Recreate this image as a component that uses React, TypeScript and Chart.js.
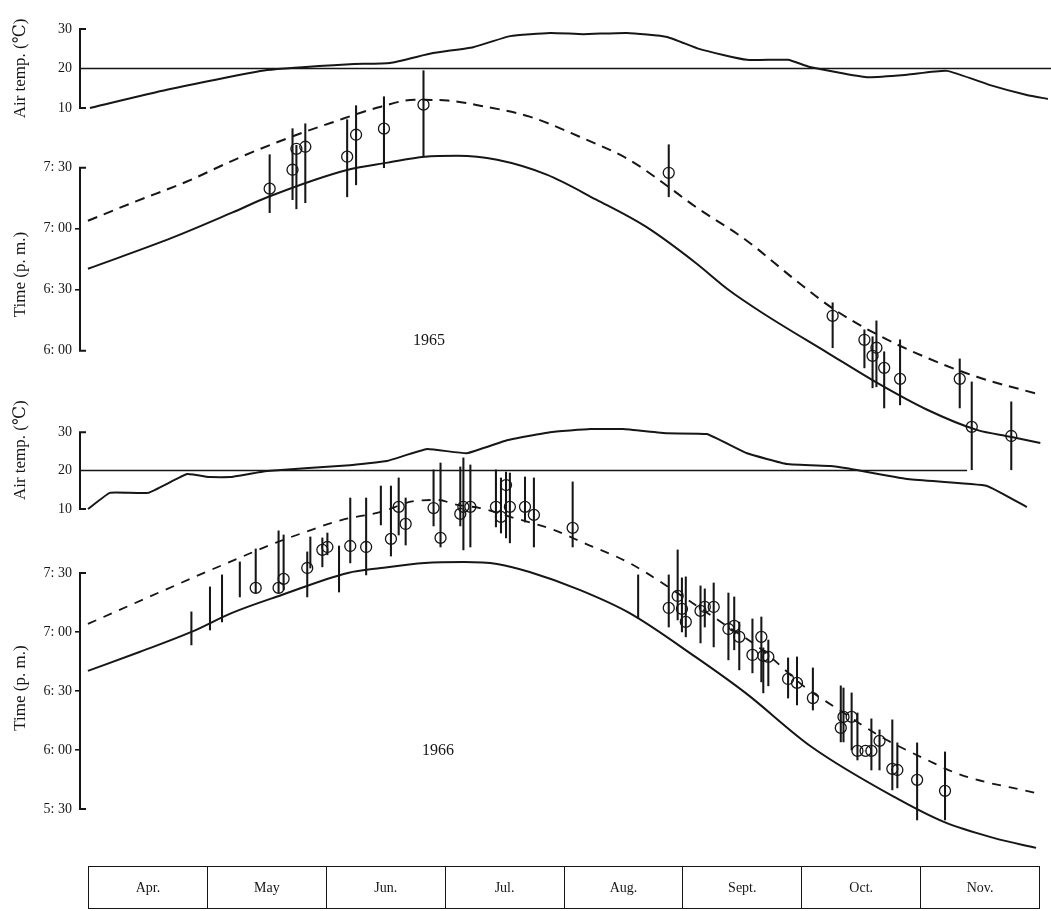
import React, { useEffect, useRef } from "react";
import { Chart, registerables } from "chart.js";

Chart.register(...registerables);

const SERIF = "'Liberation Serif', 'DejaVu Serif', 'Times New Roman', serif";
const INK = "#161616";
const W = 1051;

// ---- categories (month bar) ----
const months = ["Apr.", "May", "Jun.", "Jul.", "Aug.", "Sept.", "Oct.", "Nov."];

// x values: days after 1 April; time values: minutes after noon (p.m.)
const X_MIN = -2.05;
const X_MAX = 246.8;

// ---- 1965 air temperature (°C) ----
const temp65Day = [0.5, 20.2, 45.9, 67.1, 77.4, 88.4, 98.7, 108.2, 118.4, 126.9, 138.1, 148.4, 156.8, 168.9, 179.4, 185.0, 199.6, 209.9, 220.1, 231.2, 240.6, 246.0];
const temp65 = [10.0, 14.6, 19.6, 21.1, 21.4, 23.9, 25.4, 28.2, 29.0, 28.7, 29.0, 28.0, 24.9, 22.2, 22.2, 20.4, 17.8, 18.4, 19.4, 15.8, 13.3, 12.3];
const ref65Day = [-2.05, 246.8];
const refTemp = [20, 20];

// ---- 1965 sunset (solid) and dashed curve ----
const sunset65Day = [0, 21.8, 37.2, 46.6, 67.1, 77.4, 86.9, 95.4, 105.6, 118.4, 131.2, 144.0, 156.8, 165.3, 174.0, 190.9, 203.7, 216.6, 229.4, 238.1, 245.8];
const sunset65 = [400.3, 415.6, 427.9, 435.7, 449.0, 452.5, 455.4, 455.9, 453.9, 446.6, 434.3, 421.0, 403.3, 390.0, 378.7, 359.0, 344.2, 331.0, 321.1, 317.7, 314.7];
const dashed65Day = [0, 11.5, 25.4, 39.0, 52.5, 62.8, 75.6, 84.3, 92.8, 101.2, 114.0, 126.9, 139.7, 148.4, 156.8, 169.7, 182.5, 192.7, 204.8, 216.6, 229.4, 246.0];
const dashed65 = [423.9, 432.8, 443.1, 454.9, 465.2, 472.1, 480.0, 483.4, 483.0, 480.5, 475.1, 465.2, 453.9, 442.6, 430.8, 414.6, 394.9, 380.2, 366.9, 356.5, 347.2, 338.3];

// ---- 1965 observations ----
const obs65Day = [46.9, 52.8, 53.8, 56.1, 66.9, 69.2, 76.4, 86.6, 149.9, 192.2, 200.4, 202.5, 203.5, 205.5, 209.6, 225.0, 228.1, 238.3];
const obs65Mean = [439.7, 449.0, 459.3, 460.3, 455.4, 466.2, 469.2, 481.0, 447.5, 377.2, 365.4, 357.5, 361.5, 351.6, 346.2, 346.2, 322.6, 318.1];
const obs65Low = [427.9, 434.3, 429.8, 432.8, 435.7, 441.6, 450.0, 455.4, 435.7, 361.5, 351.6, 341.8, 342.3, 331.9, 333.4, 331.9, 301.5, 301.5];
const obs65High = [456.4, 469.2, 461.0, 471.6, 473.6, 480.5, 484.9, 497.7, 461.3, 383.6, 370.3, 366.9, 374.7, 359.5, 365.4, 356.0, 344.7, 334.9];

// ---- 1966 air temperature (°C) ----
const temp66Day = [0, 5.6, 15.4, 25.4, 31.3, 36.4, 45.9, 67.1, 76.6, 86.9, 97.1, 107.4, 118.4, 128.7, 137.1, 148.4, 158.6, 168.9, 179.1, 190.2, 194.5, 209.9, 230.4, 240.6];
const temp66 = [10.0, 14.2, 14.2, 19.1, 18.3, 18.3, 19.9, 21.4, 22.5, 25.6, 24.5, 27.9, 30.0, 30.8, 30.8, 29.7, 29.5, 24.5, 21.7, 21.2, 20.6, 17.8, 16.0, 10.5];
const ref66Day = [-2.05, 225.3];

// ---- 1966 sunset (solid) and dashed curve ----
const sunset66Day = [0, 13.3, 26.7, 37.2, 50.0, 67.1, 75.6, 86.9, 97.1, 105.6, 114.0, 126.9, 139.7, 156.8, 169.7, 186.8, 208.1, 220.9, 233.7, 244.7];
const sunset66 = [400.2, 409.8, 420.0, 429.7, 438.8, 450.0, 452.5, 455.1, 455.6, 454.6, 450.5, 441.4, 429.7, 407.3, 389.0, 361.5, 336.1, 323.4, 315.3, 310.2];
const dashed66Day = [0, 22.8, 30.5, 39.0, 48.4, 56.1, 65.4, 75.6, 84.3, 90.2, 95.3, 101.2, 109.9, 120.2, 127.9, 139.7, 156.8, 165.3, 174.0, 185.0, 192.7, 204.8, 216.6, 225.3, 244.5];
const dashed66 = [424.1, 443.9, 450.5, 457.6, 465.3, 470.8, 476.9, 481.0, 486.6, 487.1, 484.6, 483.0, 478.0, 471.9, 465.3, 455.1, 433.7, 422.5, 410.9, 392.0, 381.9, 366.6, 354.9, 347.3, 338.2];

// ---- 1966 observations (circle = mean, bar = range) ----
const obs66Day = [43.3, 49.2, 50.5, 56.6, 60.5, 61.8, 67.7, 71.8, 78.2, 80.2, 82.0, 89.2, 91.0, 96.1, 96.9, 98.7, 105.3, 106.6, 107.9, 108.9, 112.8, 115.1, 125.1, 149.9, 152.2, 153.3, 154.3, 158.1, 159.2, 161.5, 165.3, 166.8, 168.1, 171.5, 173.8, 174.3, 175.6, 180.7, 183.0, 187.1, 194.3, 195.0, 197.1, 198.6, 200.7, 202.2, 204.3, 207.6, 208.9, 214.0, 221.2];
const obs66Mean = [442.4, 442.4, 447.0, 452.5, 461.7, 463.2, 463.7, 463.2, 467.3, 483.6, 474.9, 483.0, 467.8, 480.0, 483.6, 483.6, 483.6, 478.5, 494.7, 483.6, 483.6, 479.5, 472.9, 432.2, 438.3, 431.7, 425.1, 430.7, 432.7, 432.7, 421.5, 423.1, 417.5, 408.3, 417.5, 407.8, 407.3, 396.1, 394.1, 386.4, 371.2, 376.8, 376.8, 359.5, 359.5, 359.5, 364.6, 350.4, 349.8, 344.8, 339.2];
const obs66Low = [439.8, 439.8, 441.4, 437.8, 453.1, 459.2, 455.1, 449.0, 458.6, 469.3, 464.2, 473.9, 463.2, 473.9, 461.7, 463.2, 473.4, 470.3, 467.8, 465.3, 475.9, 463.2, 463.2, 422.5, 426.1, 420.0, 417.5, 414.4, 422.5, 412.4, 405.8, 410.9, 400.7, 399.2, 394.6, 389.0, 392.6, 386.4, 382.9, 380.3, 364.1, 364.1, 360.0, 354.9, 359.5, 349.8, 349.8, 339.7, 340.7, 324.4, 324.4];
const obs66High = [462.2, 471.4, 469.3, 460.7, 467.8, 470.3, 488.1, 488.1, 494.2, 498.3, 488.1, 502.4, 505.9, 503.9, 508.5, 504.9, 502.4, 498.3, 501.3, 500.8, 498.8, 498.3, 496.3, 449.0, 461.7, 447.5, 448.0, 443.4, 441.9, 444.9, 439.8, 437.8, 425.0, 426.6, 427.6, 411.9, 415.9, 406.8, 407.3, 401.7, 392.6, 391.5, 389.0, 378.8, 359.5, 375.8, 370.2, 375.3, 363.6, 363.6, 359.0];
// ranges drawn without a mean circle
const range66Day = [26.7, 31.5, 34.6, 39.2, 57.4, 64.8, 75.6, 142.0];
const range66Low = [413.4, 421.0, 425.1, 437.8, 452.5, 440.3, 474.4, 427.1];
const range66High = [430.2, 442.9, 449.0, 455.6, 468.3, 463.7, 494.2, 449.0];

// ---- helpers ----
const pts = (xs: number[], ys: number[]) => xs.map((x, i) => ({ x, y: ys[i] }));

const curve = (xs: number[], ys: number[], extra: any = {}) => ({
  type: "line",
  data: pts(xs, ys),
  borderColor: INK,
  borderWidth: 2,
  pointRadius: 0,
  fill: false,
  clip: false,
  cubicInterpolationMode: "monotone",
  ...extra,
});

const circles = (xs: number[], ys: number[]) => ({
  type: "line",
  data: pts(xs, ys),
  showLine: false,
  pointStyle: "circle",
  pointRadius: 5.5,
  pointBorderWidth: 1.3,
  pointBorderColor: INK,
  pointBackgroundColor: "rgba(0,0,0,0)",
  clip: false,
});

const ranges = (xs: number[], lo: number[], hi: number[]) => ({
  type: "bar",
  data: xs.map((x, i) => ({ x, y: [lo[i], hi[i]] })),
  backgroundColor: INK,
  borderWidth: 0,
  barThickness: 1.4,
  grouped: false,
  clip: false,
});

const fmtTime = (v: number) => {
  const h = Math.floor(v / 60);
  const m = Math.round(v - h * 60);
  return `${h}: ${String(m).padStart(2, "0")}`;
};

// axis line drawn only over the labelled range, with bracket ends pointing inwards
const axisPlugin = {
  id: "axisSpan",
  afterDraw(chart: any) {
    const s = chart.scales.y;
    const span = chart.options.plugins.axisSpan;
    const ctx = chart.ctx;
    const yTop = s.getPixelForValue(span.hi);
    const yBot = s.getPixelForValue(span.lo);
    const x = s.right;
    ctx.save();
    ctx.strokeStyle = INK;
    ctx.lineWidth = 2;
    ctx.beginPath();
    ctx.moveTo(x, yTop - 1);
    ctx.lineTo(x, yBot + 1);
    ctx.moveTo(x - 1, yTop);
    ctx.lineTo(x + 6, yTop);
    ctx.moveTo(x - 1, yBot);
    ctx.lineTo(x + 6, yBot);
    ctx.stroke();
    ctx.restore();
  },
};

type PanelProps = {
  top: number;
  height: number;
  padTop: number;
  padBottom: number;
  yMin: number;
  yMax: number;
  axisLo: number;
  axisHi: number;
  step: number;
  title: string;
  isTime: boolean;
  datasets: any[];
};

function Panel(p: PanelProps) {
  const ref = useRef<HTMLCanvasElement>(null);
  useEffect(() => {
    const chart = new Chart(ref.current as HTMLCanvasElement, {
      type: "line",
      data: { datasets: p.datasets as any },
      plugins: [axisPlugin as any],
      options: {
        animation: false,
        responsive: false,
        maintainAspectRatio: false,
        events: [],
        layout: { padding: { left: 10, right: 0, top: p.padTop, bottom: p.padBottom } },
        plugins: {
          legend: { display: false },
          tooltip: { enabled: false },
          axisSpan: { lo: p.axisLo, hi: p.axisHi },
        },
        scales: {
          x: { type: "linear", min: X_MIN, max: X_MAX, display: false, offset: false },
          y: {
            type: "linear",
            min: p.yMin,
            max: p.yMax,
            afterFit: (s: any) => {
              s.width = 70;
            },
            afterBuildTicks: (s: any) => {
              s.ticks = s.ticks.filter((t: any) => t.value >= p.axisLo && t.value <= p.axisHi);
            },
            ticks: {
              stepSize: p.step,
              color: INK,
              padding: 3,
              font: { family: SERIF, size: 14 },
              callback: (v: any) => (p.isTime ? fmtTime(Number(v)) : String(v)),
            },
            grid: {
              drawOnChartArea: false,
              drawTicks: true,
              tickLength: 5,
              lineWidth: 1.6,
              tickColor: (c: any) => {
                const v = c.tick ? c.tick.value : null;
                if (!p.isTime || v === p.axisLo || v === p.axisHi) return "rgba(0,0,0,0)";
                return INK;
              },
            },
            border: { display: false },
            title: {
              display: true,
              text: p.title,
              color: INK,
              padding: 0,
              font: { family: SERIF, size: 17 },
            },
          },
        },
      } as any,
    });
    return () => chart.destroy();
  }, []);
  return (
    <canvas
      ref={ref}
      width={W}
      height={p.height}
      style={{ position: "absolute", left: 0, top: p.top, width: W, height: p.height }}
    />
  );
}

export default function App() {
  const temp65Sets = [
    curve(temp65Day, temp65, { cubicInterpolationMode: "default", tension: 0.15 }),
    curve(ref65Day, refTemp, { borderWidth: 1.5, cubicInterpolationMode: "default", tension: 0 }),
  ];
  const time65Sets = [
    circles(obs65Day, obs65Mean),
    ranges(obs65Day, obs65Low, obs65High),
    curve(sunset65Day, sunset65),
    curve(dashed65Day, dashed65, { borderDash: [10, 7] }),
  ];
  const temp66Sets = [
    curve(temp66Day, temp66, { cubicInterpolationMode: "default", tension: 0.1 }),
    curve(ref66Day, refTemp, { borderWidth: 1.5, cubicInterpolationMode: "default", tension: 0 }),
  ];
  const time66Sets = [
    circles(obs66Day, obs66Mean),
    ranges(obs66Day.concat(range66Day), obs66Low.concat(range66Low), obs66High.concat(range66High)),
    curve(sunset66Day, sunset66),
    curve(dashed66Day, dashed66, { borderDash: [9, 8], borderWidth: 1.8 }),
  ];

  return (
    <div
      style={{
        position: "absolute",
        left: 0,
        top: 0,
        width: W,
        height: 911,
        background: "#fff",
        overflow: "hidden",
        fontFamily: SERIF,
        color: INK,
      }}
    >
      <Panel top={0} height={125} padTop={29} padBottom={17} yMin={10} yMax={30} axisLo={10} axisHi={30} step={10} title="Air temp. (℃)" isTime={false} datasets={temp65Sets} />
      <Panel top={40} height={470} padTop={26} padBottom={27} yMin={295} yMax={500} axisLo={360} axisHi={450} step={30} title="Time (p. m.)" isTime={true} datasets={time65Sets} />
      <Panel top={380} height={150} padTop={11} padBottom={21} yMin={10} yMax={40.6} axisLo={10} axisHi={30} step={10} title="Air temp. (℃)" isTime={false} datasets={temp66Sets} />
      <Panel top={430} height={510} padTop={21} padBottom={15} yMin={271} yMax={512} axisLo={330} axisHi={450} step={30} title="Time (p. m.)" isTime={true} datasets={time66Sets} />

      <div style={{ position: "absolute", left: 413, top: 331, fontSize: 16 }}>1965</div>
      <div style={{ position: "absolute", left: 422, top: 741, fontSize: 16 }}>1966</div>

      <div
        style={{
          position: "absolute",
          left: 88,
          top: 866,
          width: 952,
          height: 43,
          boxSizing: "border-box",
          border: `1.5px solid ${INK}`,
          display: "flex",
        }}
      >
        {months.map((m, i) => (
          <div
            key={m}
            style={{
              flex: 1,
              borderLeft: i === 0 ? "none" : `1.5px solid ${INK}`,
              display: "flex",
              alignItems: "center",
              justifyContent: "center",
              fontSize: 14,
            }}
          >
            {m}
          </div>
        ))}
      </div>
    </div>
  );
}
